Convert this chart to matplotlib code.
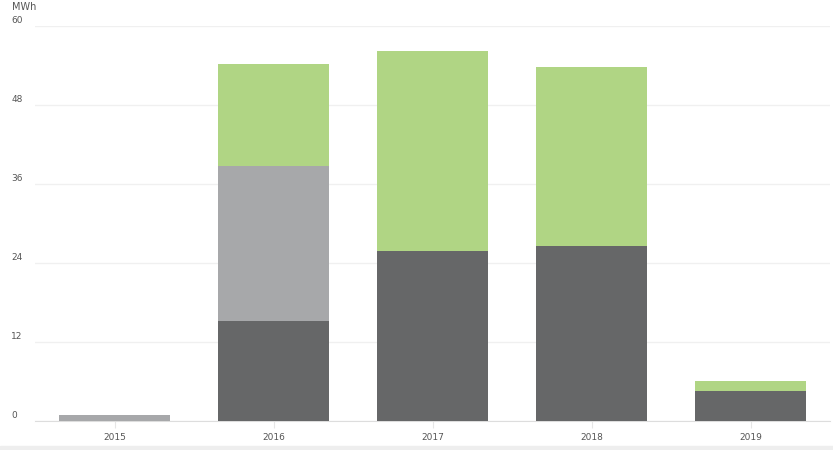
import matplotlib.pyplot as plt
import numpy as np
from matplotlib.patches import Rectangle

years = ['2015', '2016', '2017', '2018', '2019']
dark = [0, 15.2, 25.8, 26.6, 4.6]
light = [0.9, 23.5, 0, 0, 0]
green = [0, 15.5, 30.4, 27.2, 1.5]
yticks = [0, 12, 24, 36, 48, 60]

DARK = '#666768'
LIGHT = '#a7a8aa'
GREEN = '#b0d584'

fig = plt.figure(figsize=(8.33, 4.5), dpi=100)
ax = fig.add_axes([35 / 833, 29 / 450, 795 / 833, 395 / 450])

x = np.arange(len(years))
w = 0.7
dark = np.array(dark)
light = np.array(light)
green = np.array(green)
ax.bar(x, dark, w, color=DARK, zorder=3)
ax.bar(x, light, w, bottom=dark, color=LIGHT, zorder=3)
ax.bar(x, green, w, bottom=dark + light, color=GREEN, zorder=3)

ax.set_xlim(-0.5, len(years) - 0.5)
ax.set_ylim(0, 60)
ax.set_yticks(yticks)
ax.set_yticklabels([])
ax.yaxis.grid(True, color='#f0f0f0', linewidth=1, zorder=0)
ax.tick_params(axis='y', length=0)
for t in yticks:
    ax.annotate(str(t), xy=(0, t), xycoords=('axes fraction', 'data'),
                xytext=(-17, 0.5), textcoords='offset points', fontsize=6.5,
                color='#555555', ha='left', va='bottom')
ax.text(12 / 833, 1 - 7 / 450, 'MWh', transform=fig.transFigure,
        fontsize=7, color='#555555', ha='left', va='center')

ax.set_xticks(x)
ax.set_xticklabels(years, fontsize=6.5, color='#555555')
ax.tick_params(axis='x', length=5, color='#e6e6e6', pad=4)

for s in ['top', 'right', 'left']:
    ax.spines[s].set_visible(False)
ax.spines['bottom'].set_color('#dddddd')

fig.patches.append(Rectangle((0, 0), 1, 4 / 450, transform=fig.transFigure,
                             color='#eeeeee', zorder=0))

fig.savefig('out.png', dpi=100)
